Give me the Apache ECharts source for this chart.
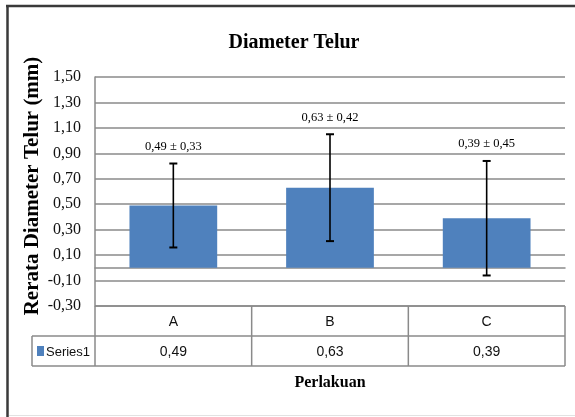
<!DOCTYPE html>
<html><head><meta charset="utf-8">
<script src="https://cdn.jsdelivr.net/npm/echarts@6/dist/echarts.min.js"></script>
<style>html,body{margin:0;padding:0;background:#fff}#c{width:575px;height:417px}</style>
</head><body><div id="c"></div>
<script>
// ---- data ----
const categories = ['A', 'B', 'C'];
const means = [0.49, 0.63, 0.39];
const sds = [0.33, 0.42, 0.45];
const seriesName = 'Series1';
const chartTitle = 'Diameter Telur';
const yTitle = 'Rerata Diameter Telur (mm)';
const xTitle = 'Perlakuan';
const yMin = -0.3, yMax = 1.5, yStep = 0.2;

function fmt(v) { return Number(v).toFixed(2).replace('.', ','); }

const serif = "'Liberation Serif','Times New Roman',serif";
const sans = "'Liberation Sans',Arial,sans-serif";
const gridColor = '#8a8a8a';
const barColor = '#4F81BD';

const chart = echarts.init(document.getElementById('c'), null, { renderer: 'canvas' });

chart.setOption({
  animation: false,
  backgroundColor: '#fff',
  grid: { left: 95, right: 10, top: 77, bottom: 111, containLabel: false },
  xAxis: {
    type: 'category',
    data: categories,
    axisLine: { onZero: true, lineStyle: { color: gridColor, width: 1.5 } },
    axisTick: { show: false },
    axisLabel: { show: false },
    splitLine: { show: false }
  },
  yAxis: {
    type: 'value',
    min: yMin, max: yMax, interval: yStep,
    axisLine: { show: true, lineStyle: { color: gridColor, width: 1.5 } },
    axisTick: { show: false },
    axisLabel: {
      margin: 14, color: '#111', fontFamily: serif, fontSize: 16,
      formatter: function (v) { return fmt(v); }
    },
    splitLine: { show: true, lineStyle: { color: gridColor, width: 1.5 } }
  },
  series: [
    {
      type: 'bar', name: seriesName, data: means,
      barWidth: '56%',
      itemStyle: { color: barColor }
    },
    {
      type: 'custom', name: 'err',
      data: categories.map(function (c, i) { return [i, means[i], sds[i]]; }),
      encode: { x: 0, y: [1, 2] },
      z: 5,
      renderItem: function (params, api) {
        const i = api.value(0);
        const m = api.value(1), s = api.value(2);
        const top = api.coord([i, m + s]);
        const bot = api.coord([i, m - s]);
        const x = top[0];
        const cap = 4;
        return {
          type: 'group', children: [
            { type: 'line', shape: { x1: x, y1: top[1], x2: x, y2: bot[1] }, style: { stroke: '#000', lineWidth: 1.6 } },
            { type: 'line', shape: { x1: x - cap, y1: top[1], x2: x + cap, y2: top[1] }, style: { stroke: '#000', lineWidth: 2 } },
            { type: 'line', shape: { x1: x - cap, y1: bot[1], x2: x + cap, y2: bot[1] }, style: { stroke: '#000', lineWidth: 2 } },
            { type: 'text', x: x, y: top[1] - 17, style: { text: fmt(m) + ' ± ' + fmt(s), align: 'center', verticalAlign: 'middle', fontFamily: serif, fontSize: 12.5, fill: '#000' } }
          ]
        };
      }
    }
  ]
});

// ---- data table, titles and frame (positions from the chart's own scales) ----
const centers = categories.map(function (c, i) { return chart.convertToPixel({ xAxisIndex: 0 }, i); });
const band = categories.length > 1 ? centers[1] - centers[0] : 100;
const y0 = chart.convertToPixel({ yAxisIndex: 0 }, yMin);
const leftX = centers[0] - band / 2;
const rightX = centers[centers.length - 1] + band / 2;
const rowH = 30;
const keyLeft = 32;
const lineStyle = { stroke: gridColor, lineWidth: 1.5 };
const els = [];
function hline(x1, x2, y) { els.push({ type: 'line', shape: { x1: x1, y1: y, x2: x2, y2: y }, style: lineStyle, silent: true }); }
function vline(x, y1, y2) { els.push({ type: 'line', shape: { x1: x, y1: y1, x2: x, y2: y2 }, style: lineStyle, silent: true }); }

hline(leftX, rightX, y0);
hline(keyLeft, rightX, y0 + rowH);
hline(keyLeft, rightX, y0 + 2 * rowH);
for (let k = 0; k <= categories.length; k++) vline(leftX + k * band, y0, y0 + 2 * rowH);
vline(keyLeft, y0 + rowH, y0 + 2 * rowH);

categories.forEach(function (c, i) {
  els.push({ type: 'text', x: centers[i], y: y0 + rowH / 2 + 1, style: { text: c, align: 'center', verticalAlign: 'middle', fontFamily: sans, fontSize: 14, fill: '#111' } });
  els.push({ type: 'text', x: centers[i], y: y0 + rowH * 1.5 + 1, style: { text: fmt(means[i]), align: 'center', verticalAlign: 'middle', fontFamily: sans, fontSize: 14, fill: '#111' } });
});
els.push({ type: 'rect', shape: { x: keyLeft + 5, y: y0 + rowH + 10, width: 7, height: 10 }, style: { fill: barColor } });
els.push({ type: 'text', x: keyLeft + 14, y: y0 + rowH * 1.5 + 1, style: { text: seriesName, align: 'left', verticalAlign: 'middle', fontFamily: sans, fontSize: 13, fill: '#111' } });

// titles
els.push({ type: 'text', x: 294, y: 43, style: { text: chartTitle, align: 'center', verticalAlign: 'middle', fontFamily: serif, fontWeight: 'bold', fontSize: 20, fill: '#000' } });
els.push({ type: 'text', x: 33, y: 186, rotation: Math.PI / 2, style: { text: yTitle, align: 'center', verticalAlign: 'middle', fontFamily: serif, fontWeight: 'bold', fontSize: 21, fill: '#000' } });
els.push({ type: 'text', x: (leftX + rightX) / 2, y: 383, style: { text: xTitle, align: 'center', verticalAlign: 'middle', fontFamily: serif, fontWeight: 'bold', fontSize: 16, fill: '#000' } });

// frame
els.push({ type: 'line', shape: { x1: 7.5, y1: 5, x2: 7.5, y2: 417 }, style: { stroke: '#3a3a3a', lineWidth: 2.5 } });
els.push({ type: 'line', shape: { x1: 6, y1: 6, x2: 575, y2: 6 }, style: { stroke: '#3a3a3a', lineWidth: 2.5 } });
els.push({ type: 'line', shape: { x1: 9, y1: 415.5, x2: 575, y2: 415.5 }, style: { stroke: '#e2e2e2', lineWidth: 1 } });

chart.setOption({ graphic: { elements: els } });
</script>
</body></html>
